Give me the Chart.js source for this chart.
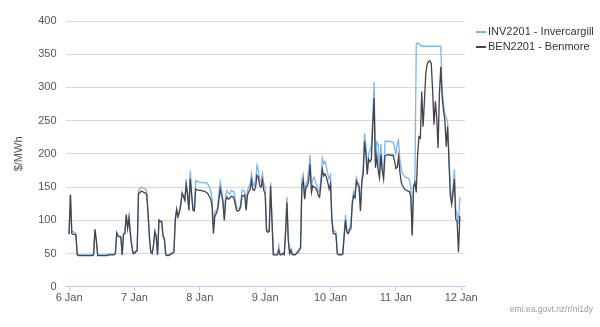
<!DOCTYPE html>
<html>
<head>
<meta charset="utf-8">
<title>Nodal prices</title>
<script src="https://cdn.jsdelivr.net/npm/chart.js@4.4.1/dist/chart.umd.min.js"></script>
<style>
  body { margin: 0; background: #fff; }
  #wrap { position: relative; width: 600px; height: 327px; }
  .legend { position: absolute; left: 476px; top: 24px; font: 11px "Liberation Sans", Arial, sans-serif; color: #333; line-height: 15px; white-space: nowrap; }
  .legend i { display: inline-block; width: 10px; height: 2px; vertical-align: middle; margin-right: 2px; }
  .source { position: absolute; right: 7px; top: 304px; font: 8.5px "Liberation Sans", Arial, sans-serif; color: #999; }
</style>
</head>
<body>
<div id="wrap">
  <canvas id="prices" width="600" height="327"></canvas>
  <div class="legend">
    <div><i style="background:#7cb5ec"></i>INV2201 - Invercargill</div>
    <div><i style="background:#434348"></i>BEN2201 - Benmore</div>
  </div>
  <div class="source">emi.ea.govt.nz/r/ni1dy</div>
</div>
<script>
// half-hourly trading periods, 6 Jan 00:00 onwards ($/MWh)
var dayLabels = ['6 Jan', '7 Jan', '8 Jan', '9 Jan', '10 Jan', '11 Jan', '12 Jan'];

var invPrices = [
  // 6 Jan
  80, 140, 83, 83, 82, 80, 49, 48, 48, 48, 48, 48, 48, 48, 48, 48, 48, 48, 49, 87, 71, 48, 48, 48,
  48, 48, 48, 48, 48, 49, 49, 49, 49, 49, 51, 82, 77, 76, 76, 49, 80, 81, 110, 89, 106, 81, 63, 52,
  // 7 Jan
  52, 54, 55, 145, 148, 150, 149, 148, 147, 144, 112, 76, 53, 51, 63, 84, 76, 49, 101, 99, 99, 77, 73, 49,
  48, 48, 49, 51, 51, 53, 104, 118, 107, 115, 125, 143, 138, 132, 156, 142, 117, 175, 142, 117, 118, 160, 159, 158,
  // 8 Jan
  157, 157, 156, 157, 156, 157, 154, 150, 145, 132, 95, 112, 115, 118, 140, 158, 145, 132, 102, 138, 145, 141, 140, 145,
  144, 143, 132, 120, 118, 118, 125, 145, 145, 143, 118, 145, 150, 155, 170, 156, 152, 160, 183, 176, 160, 158, 170, 155,
  // 9 Jan
  150, 86, 85, 86, 157, 105, 49, 49, 49, 49, 62, 49, 49, 51, 49, 85, 135, 72, 51, 57, 49, 49, 49, 51,
  53, 57, 60, 162, 169, 135, 155, 160, 175, 199, 150, 162, 165, 158, 152, 145, 142, 165, 194, 185, 189, 180, 170, 162,
  // 10 Jan
  168, 105, 85, 84, 82, 52, 49, 49, 49, 50, 80, 108, 86, 84, 88, 92, 130, 144, 138, 164, 157, 155, 118, 162,
  178, 231, 212, 175, 200, 205, 212, 255, 308, 188, 218, 214, 172, 215, 180, 170, 219, 219, 219, 219, 218, 218, 218, 210,
  // 11 Jan
  200, 215, 221, 190, 177, 170, 167, 165, 164, 164, 160, 150, 78, 152, 157, 366, 367, 366, 364, 362, 362, 362, 362, 362,
  362, 362, 362, 362, 362, 362, 362, 362, 362, 362, 296, 275, 260, 255, 248, 195, 147, 130, 150, 177, 114, 110, 95, 135
];

var benPrices = [
  // 6 Jan
  79, 138, 80, 79, 79, 78, 48, 47, 47, 47, 47, 47, 47, 47, 47, 47, 47, 47, 48, 86, 70, 47, 47, 47,
  47, 47, 47, 47, 47, 48, 48, 48, 48, 48, 50, 81, 76, 75, 75, 48, 79, 80, 108, 88, 104, 80, 62, 50,
  // 7 Jan
  50, 53, 54, 140, 142, 144, 143, 142, 141, 139, 110, 75, 52, 50, 62, 83, 75, 48, 100, 98, 98, 76, 72, 48,
  47, 47, 48, 50, 50, 52, 100, 116, 105, 112, 122, 140, 136, 130, 154, 138, 115, 163, 138, 115, 114, 147, 146, 145,
  // 8 Jan
  145, 145, 144, 144, 143, 142, 140, 136, 132, 122, 80, 105, 110, 115, 130, 147, 138, 128, 100, 130, 135, 132, 133, 136,
  136, 134, 125, 115, 114, 115, 120, 137, 137, 138, 115, 138, 143, 147, 160, 146, 145, 150, 168, 165, 152, 150, 160, 145,
  // 9 Jan
  140, 84, 82, 84, 152, 100, 48, 48, 48, 48, 55, 48, 48, 50, 48, 80, 127, 70, 50, 55, 48, 48, 48, 50,
  52, 55, 58, 152, 160, 132, 150, 152, 160, 184, 142, 152, 150, 149, 145, 138, 135, 155, 177, 167, 170, 165, 157, 147,
  // 10 Jan
  155, 100, 80, 80, 79, 50, 48, 48, 48, 49, 75, 100, 82, 80, 85, 88, 125, 137, 134, 159, 154, 150, 114, 157,
  170, 219, 200, 169, 192, 188, 192, 239, 284, 179, 197, 175, 164, 199, 175, 162, 197, 198, 199, 199, 198, 198, 198, 190,
  // 11 Jan
  178, 180, 196, 172, 157, 152, 148, 146, 145, 144, 143, 135, 77, 150, 157, 142, 200, 226, 224, 294, 241, 280, 321, 335,
  339, 340, 336, 296, 244, 279, 255, 209, 290, 331, 286, 265, 251, 211, 241, 190, 137, 124, 140, 162, 102, 98, 52, 107
];

var periodsPerDay = 48;

// x in days since 6 Jan
function toPoints(values) {
  return values.map(function (v, i) { return { x: i / periodsPerDay, y: v }; });
}

Chart.defaults.font.family = '"Liberation Sans", Arial, sans-serif';
Chart.defaults.font.size = 11;

var chart = new Chart(document.getElementById('prices'), {
  type: 'line',
  data: {
    datasets: [
      {
        label: 'INV2201 - Invercargill',
        data: toPoints(invPrices),
        borderColor: '#7cb5ec',
        borderWidth: 1.3,
        pointRadius: 0,
        order: 1
      },
      {
        label: 'BEN2201 - Benmore',
        data: toPoints(benPrices),
        borderColor: '#434348',
        borderWidth: 1.3,
        pointRadius: 0,
        order: 0 // drawn over the blue line
      }
    ]
  },
  options: {
    responsive: false,
    animation: false,
    devicePixelRatio: 1,
    layout: { padding: { top: 21, right: 135, bottom: 21, left: 8 } },
    plugins: {
      legend: { display: false },
      tooltip: { enabled: false }
    },
    scales: {
      x: {
        type: 'linear',
        min: -0.054,
        max: 6.058,
        afterBuildTicks: function (scale) {
          scale.ticks = dayLabels.map(function (d, i) { return { value: i }; });
        },
        ticks: {
          callback: function (v) { return dayLabels[v]; },
          color: '#555',
          padding: 1,
          maxRotation: 0,
          autoSkip: false
        },
        grid: { drawOnChartArea: false, color: '#c0d0e0', tickLength: 4 },
        border: { color: '#c0d0e0' }
      },
      y: {
        min: 0,
        max: 400,
        ticks: { stepSize: 50, padding: 9, color: '#555' },
        grid: { color: '#d8d8d8', drawTicks: false },
        border: { display: false },
        title: { display: true, text: '$/MWh', color: '#555' }
      }
    }
  }
});
</script>
</body>
</html>
